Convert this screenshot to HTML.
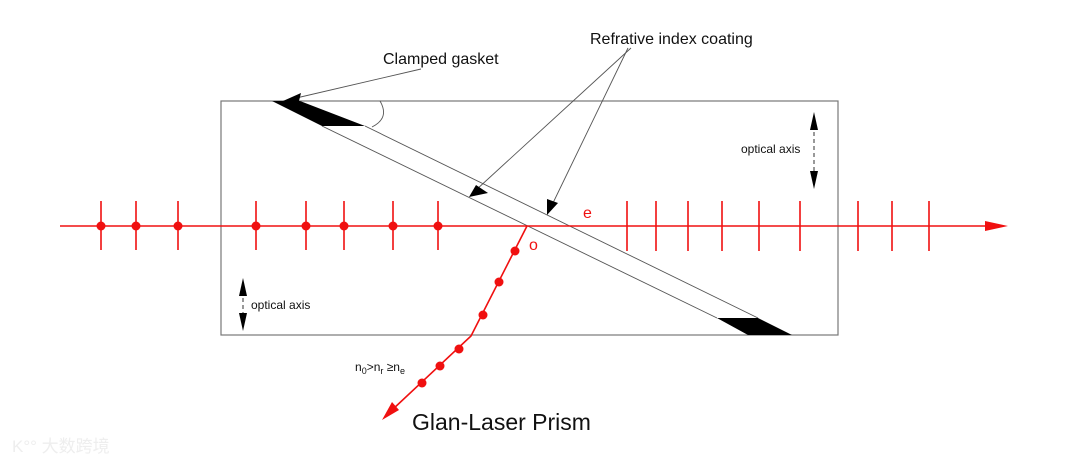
<!DOCTYPE html>
<html><head><meta charset="utf-8"><style>
html,body{margin:0;padding:0;background:#fff;}
svg{display:block;}
text{font-family:"Liberation Sans",Arial,sans-serif;}
</style></head><body>
<svg width="1080" height="467" viewBox="0 0 1080 467" xmlns="http://www.w3.org/2000/svg">
<rect x="221" y="101" width="617" height="234" fill="none" stroke="#777" stroke-width="1.2"/>
<line x1="365" y1="126" x2="758" y2="318" stroke="#555" stroke-width="0.9"/>
<line x1="322" y1="126" x2="717" y2="318" stroke="#555" stroke-width="0.9"/>
<polygon points="272,101 300,101 365,126 322,126" fill="#000"/>
<polygon points="717,318 758,318 792,335 748,335" fill="#000"/>
<path d="M 380 101 Q 390 118 372 127" fill="none" stroke="#555" stroke-width="0.9"/>
<line x1="421" y1="69" x2="292" y2="99" stroke="#555" stroke-width="0.9"/>
<polygon points="283,101 301,93 299,101" fill="#000"/>
<line x1="631" y1="48" x2="476" y2="190" stroke="#555" stroke-width="0.9"/>
<polygon points="469,197 476,185 488,193" fill="#000"/>
<line x1="628" y1="48" x2="552" y2="205" stroke="#555" stroke-width="0.9"/>
<polygon points="547,215 547,199 558,203" fill="#000"/>
<text x="590" y="44" font-size="16" fill="#111">Refrative index coating</text>
<text x="383" y="64" font-size="16" fill="#111">Clamped gasket</text>
<line x1="60" y1="226" x2="992" y2="226" stroke="#f01010" stroke-width="1.6"/>
<polygon points="1008,226 985,221 985,231" fill="#f01010"/>
<g stroke="#f01010" stroke-width="1.6">
<line x1="101" y1="201" x2="101" y2="250"/><line x1="136" y1="201" x2="136" y2="250"/>
<line x1="178" y1="201" x2="178" y2="250"/><line x1="256" y1="201" x2="256" y2="250"/>
<line x1="306" y1="201" x2="306" y2="250"/><line x1="344" y1="201" x2="344" y2="250"/>
<line x1="393" y1="201" x2="393" y2="250"/><line x1="438" y1="201" x2="438" y2="250"/>
<line x1="627" y1="201" x2="627" y2="251"/><line x1="656" y1="201" x2="656" y2="251"/>
<line x1="688" y1="201" x2="688" y2="251"/><line x1="722" y1="201" x2="722" y2="251"/>
<line x1="759" y1="201" x2="759" y2="251"/><line x1="800" y1="201" x2="800" y2="251"/>
<line x1="858" y1="201" x2="858" y2="251"/><line x1="892" y1="201" x2="892" y2="251"/>
<line x1="929" y1="201" x2="929" y2="251"/>
<polyline points="527,226 471,336 392,410" fill="none"/>
</g>
<polygon points="382,420 392,402 399,410" fill="#f01010"/>
<g fill="#f01010">
<circle cx="101" cy="226" r="4.5"/><circle cx="136" cy="226" r="4.5"/><circle cx="178" cy="226" r="4.5"/>
<circle cx="256" cy="226" r="4.5"/><circle cx="306" cy="226" r="4.5"/><circle cx="344" cy="226" r="4.5"/>
<circle cx="393" cy="226" r="4.5"/><circle cx="438" cy="226" r="4.5"/>
<circle cx="515" cy="251" r="4.5"/><circle cx="499" cy="282" r="4.5"/><circle cx="483" cy="315" r="4.5"/>
<circle cx="459" cy="349" r="4.5"/><circle cx="440" cy="366" r="4.5"/><circle cx="422" cy="383" r="4.5"/>
</g>
<text x="583" y="218" font-size="16" fill="#f01010">e</text>
<text x="529" y="250" font-size="16" fill="#f01010">o</text>
<line x1="814" y1="118" x2="814" y2="180" stroke="#333" stroke-width="1" stroke-dasharray="4,3"/>
<polygon points="814,112 810,130 818,130" fill="#000"/>
<polygon points="814,189 810,171 818,171" fill="#000"/>
<text x="741" y="153" font-size="12" fill="#111">optical axis</text>
<line x1="243" y1="284" x2="243" y2="325" stroke="#333" stroke-width="1" stroke-dasharray="4,3"/>
<polygon points="243,278 239,296 247,296" fill="#000"/>
<polygon points="243,331 239,313 247,313" fill="#000"/>
<text x="251" y="309" font-size="12" fill="#111">optical axis</text>
<text x="355" y="371" font-size="12" fill="#111">n<tspan font-size="9" dy="3">0</tspan><tspan dy="-3">&gt;n</tspan><tspan font-size="9" dy="3">r</tspan><tspan dy="-3"> ≥n</tspan><tspan font-size="9" dy="3">e</tspan></text>
<text x="412" y="430" font-size="23" fill="#111">Glan-Laser Prism</text>
<text x="12" y="452" font-size="17" fill="#eee" font-family="'Liberation Sans','Noto Sans CJK SC',sans-serif">K°° 大数跨境</text>
</svg>
</body></html>
